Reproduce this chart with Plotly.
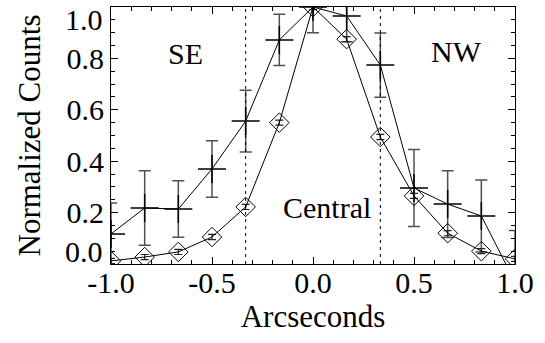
import plotly.graph_objects as go

# Data
arcsec = [-1.0, -0.8333, -0.6667, -0.5, -0.3333, -0.1667, 0.0, 0.1667, 0.3333, 0.5, 0.6667, 0.8333, 1.0]
cross_counts = [0.117, 0.218, 0.214, 0.37, 0.556, 0.872, 1.0, 0.965, 0.774, 0.296, 0.233, 0.187, -0.07]
cross_err = [0.12, 0.145, 0.11, 0.11, 0.12, 0.10, 0.10, 0.10, 0.125, 0.15, 0.13, 0.14, 0.20]
diamond_counts = [0.012, 0.027, 0.047, 0.105, 0.222, 0.55, 1.0, 0.875, 0.494, 0.265, 0.12, 0.05, 0.02]
diamond_err = [0.01, 0.01, 0.01, 0.01, 0.01, 0.01, 0.01, 0.01, 0.01, 0.01, 0.01, 0.01, 0.01]
region_bounds = [-1/3, 1/3]
labels = ["SE", "NW", "Central"]
label_x = [-0.63, 0.71, 0.07]
label_y = [0.82, 0.825, 0.22]
xticks = [-1.0, -0.5, 0.0, 0.5, 1.0]
xticklabels = ["-1.0", "-0.5", "0.0", "0.5", "1.0"]
yticks = [0.0, 0.2, 0.4, 0.6, 0.8, 1.0]
yticklabels = ["0.0", "0.2", "0.4", "0.6", "0.8", "1.0"]

FONT = "Liberation Serif"

fig = go.Figure()
fig.add_trace(go.Scatter(
    x=arcsec, y=cross_counts, mode="lines+markers",
    line=dict(color="black", width=1),
    marker=dict(symbol="cross-thin", size=20, color="black", line=dict(color="black", width=1.5)),
    error_y=dict(type="data", array=cross_err, color="#505050", thickness=1.5, width=6),
    showlegend=False,
))
fig.add_trace(go.Scatter(
    x=arcsec, y=diamond_counts, mode="lines+markers",
    line=dict(color="black", width=1),
    marker=dict(symbol="diamond-open", size=15, color="black", line=dict(color="black", width=1)),
    error_y=dict(type="data", array=diamond_err, color="#222222", thickness=1.2, width=4),
    showlegend=False,
))

for xb in region_bounds:
    fig.add_shape(type="line", xref="x", yref="paper", x0=xb, x1=xb, y0=0, y1=1,
                  line=dict(color="black", width=1, dash="3px,4px"))

for t, lx, ly in zip(labels, label_x, label_y):
    fig.add_annotation(x=lx, y=ly, text=t, showarrow=False, xref="x", yref="y",
                       font=dict(family=FONT, size=30, color="black"))

# y tick labels: the end labels are pulled inside the axis span, as in the reference
middle_text = [t if 0 < v < 1 else "" for v, t in zip(yticks, yticklabels)]
for v, t in zip(yticks, yticklabels):
    if v == 0:
        fig.add_annotation(x=0, y=v, xref="paper", yref="y", text=t, showarrow=False,
                           xanchor="right", yanchor="bottom", xshift=-6, yshift=-6,
                           font=dict(family=FONT, size=30, color="black"))
    elif v == 1:
        fig.add_annotation(x=0, y=v, xref="paper", yref="y", text=t, showarrow=False,
                           xanchor="right", yanchor="top", xshift=-6, yshift=6,
                           font=dict(family=FONT, size=30, color="black"))

axis_common = dict(
    showline=True, linecolor="black", linewidth=1, mirror="allticks",
    ticks="inside", ticklen=7, tickwidth=1, tickcolor="black",
    showgrid=False, zeroline=False,
    tickfont=dict(family=FONT, size=30, color="black"),
)

fig.update_xaxes(range=[-1, 1], tickvals=xticks, ticktext=xticklabels, **axis_common,
                 ticklabelstandoff=-8,
                 minor=dict(dtick=0.1, ticks="inside", ticklen=4, tickcolor="black", showgrid=False),
                 title=dict(text="Arcseconds", font=dict(family=FONT, size=31, color="black"), standoff=0))
fig.update_yaxes(range=[0, 1], tickvals=yticks, ticktext=middle_text, **axis_common,
                 minor=dict(dtick=0.05, ticks="inside", ticklen=4, tickcolor="black", showgrid=False),
                 title=dict(text="Normalized Counts", font=dict(family=FONT, size=31, color="black"), standoff=16))

fig.update_layout(
    width=545, height=343,
    margin=dict(l=111, r=30, t=7, b=79),
    paper_bgcolor="white", plot_bgcolor="white",
)

fig.write_html("out.html")
